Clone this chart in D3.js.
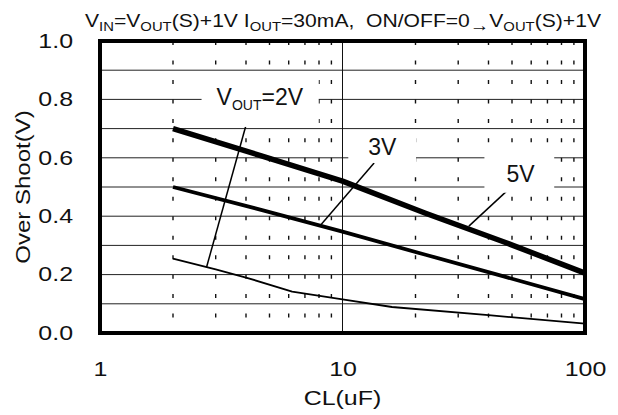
<!DOCTYPE html>
<html>
<head>
<meta charset="utf-8">
<script src="https://cdn.jsdelivr.net/npm/d3@7"></script>
<style>
  body { margin: 0; background: #fff; }
  svg { display: block; }
  text { font-family: "Liberation Sans", Arial, sans-serif; fill: #111; white-space: pre; }
</style>
</head>
<body>
<div id="chart"></div>
<script>
const width = 618;
const height = 415;

// axis ticks
const clTicks = [1, 10, 100];
const yTicks = [0, 0.2, 0.4, 0.6, 0.8, 1.0];
const yGrid = [0.1, 0.2, 0.3, 0.4, 0.5, 0.6, 0.7, 0.8, 0.9];

// Vout = 5V (thick)
const cl5V = [2, 4.7, 10, 22, 47, 100];
const os5V = [0.70, 0.605, 0.52, 0.41, 0.31, 0.205];

// Vout = 3V
const cl3V = [2, 4.7, 10, 22, 47, 100];
const os3V = [0.50, 0.42, 0.347, 0.268, 0.192, 0.116];

// Vout = 2V (thin)
const cl2V = [2, 3, 4, 6.2, 10, 16, 40, 100];
const os2V = [0.255, 0.218, 0.19, 0.142, 0.115, 0.089, 0.061, 0.032];

// curve labels: text anchor (CL, V) and pointer line from / to
const labelNames = ['2V', '3V', '5V'];
const labelAt = [[4.56, 0.781], [14.6, 0.610], [54.2, 0.518]];
const pointerFrom = [[4.08, 0.737], [13.5, 0.582], [47.3, 0.484]];
const pointerTo = [[2.75, 0.225], [8.13, 0.370], [33.2, 0.366]];

const plotLeft = 100, plotRight = 585, plotTop = 41, plotBottom = 333;

const x = d3.scaleLog().domain([1, 100]).range([plotLeft, plotRight]);
const y = d3.scaleLinear().domain([0, 1]).range([plotBottom, plotTop]);

// the original lettering is wider than Arial, stretch it horizontally
function stretch(sel, sx) {
  sel.each(function () {
    const t = d3.select(this);
    const x0 = +t.attr('x') || 0;
    const old = t.attr('transform') || '';
    t.attr('transform', old + ' translate(' + x0 + ',0) scale(' + sx + ',1) translate(' + (-x0) + ',0)');
  });
}

const svg = d3.select('#chart')
  .append('svg')
  .attr('width', width)
  .attr('height', height);

// horizontal grid
svg.append('g')
  .selectAll('line')
  .data(yGrid)
  .join('line')
  .attr('x1', plotLeft)
  .attr('x2', plotRight)
  .attr('y1', d => y(d))
  .attr('y2', d => y(d))
  .attr('stroke', '#222')
  .attr('stroke-width', 1);

// dashed minor verticals
const minor = x.ticks().filter(d => clTicks.indexOf(d) < 0);
svg.append('g')
  .selectAll('line')
  .data(minor)
  .join('line')
  .attr('x1', d => x(d))
  .attr('x2', d => x(d))
  .attr('y1', plotTop)
  .attr('y2', plotBottom)
  .attr('stroke', '#111')
  .attr('stroke-width', 1.4)
  .attr('stroke-dasharray', '4,15.47');

// solid vertical at 10
svg.append('line')
  .attr('x1', x(10)).attr('x2', x(10))
  .attr('y1', plotTop).attr('y2', plotBottom)
  .attr('stroke', '#111')
  .attr('stroke-width', 1);

// white boxes behind the curve labels (hide grid)
const boxPad = [[15, 11, 15, 14], [20, 1, 19, 3], [22, 16, 19, 6]]; // left, top, right, bottom
const labelG = svg.append('g');
const labels = labelNames.map(function (name, i) {
  const t = labelG.append('text')
    .attr('x', x(labelAt[i][0]))
    .attr('y', y(labelAt[i][1]))
    .attr('text-anchor', 'middle')
    .style('font-size', '23px');
  if (name === '2V') {
    t.append('tspan').text('V');
    t.append('tspan').attr('dy', 5).style('font-size', '14px').text('OUT');
    t.append('tspan').attr('dy', -5).text('=2V');
  } else {
    t.text(name);
  }
  return t;
});
labels.forEach(function (t, i) {
  const b = t.node().getBBox();
  const p = boxPad[i];
  labelG.insert('rect', 'text')
    .attr('x', b.x - p[0])
    .attr('y', b.y - p[1])
    .attr('width', b.width + p[0] + p[2])
    .attr('height', b.height + p[1] + p[3])
    .attr('fill', '#fff');
});

// curves
const line = d3.line()
  .x(d => x(d[0]))
  .y(d => y(d[1]));

const series = [
  { cl: cl2V, os: os2V, w: 1.8 },
  { cl: cl3V, os: os3V, w: 3.8 },
  { cl: cl5V, os: os5V, w: 5.5 }
];
series.forEach(function (s) {
  svg.append('path')
    .attr('d', line(s.cl.map((c, i) => [c, s.os[i]])))
    .attr('fill', 'none')
    .attr('stroke', '#000')
    .attr('stroke-width', s.w)
    .attr('stroke-linejoin', 'round');
});

// pointer lines
labelNames.forEach(function (name, i) {
  svg.append('path')
    .attr('d', line([pointerFrom[i], pointerTo[i]]))
    .attr('stroke', '#000')
    .attr('stroke-width', 1.5);
});

labelG.raise();

// frame
svg.append('rect')
  .attr('x', plotLeft)
  .attr('y', plotTop)
  .attr('width', plotRight - plotLeft)
  .attr('height', plotBottom - plotTop)
  .attr('fill', 'none')
  .attr('stroke', '#000')
  .attr('stroke-width', 4);

// axes
const yAxis = svg.append('g')
  .attr('transform', 'translate(' + plotLeft + ',0)')
  .call(d3.axisLeft(y).tickValues(yTicks).tickFormat(d3.format('.1f')).tickSize(0).tickPadding(27));
yAxis.select('.domain').remove();
yAxis.selectAll('text')
  .style('font-size', '19.5px')
  .style('font-family', '"Liberation Sans", Arial, sans-serif')
  .attr('fill', '#111')
  .call(stretch, 1.28);

const xAxis = svg.append('g')
  .attr('transform', 'translate(0,' + plotBottom + ')')
  .call(d3.axisBottom(x).tickValues(clTicks).tickFormat(d3.format('d')).tickSize(0).tickPadding(29));
xAxis.select('.domain').remove();
xAxis.selectAll('text')
  .style('font-size', '19.5px')
  .style('font-family', '"Liberation Sans", Arial, sans-serif')
  .attr('fill', '#111')
  .call(stretch, 1.28);

// axis titles
svg.append('text')
  .attr('x', (plotLeft + plotRight) / 2)
  .attr('y', 405)
  .attr('text-anchor', 'middle')
  .style('font-size', '19.5px')
  .text('CL(uF)')
  .call(stretch, 1.28);

svg.append('text')
  .attr('transform', 'translate(30,' + (plotTop + plotBottom) / 2 + ') rotate(-90)')
  .attr('text-anchor', 'middle')
  .style('font-size', '20px')
  .text('Over Shoot(V)')
  .call(stretch, 1.2);

// top condition text
const title = svg.append('text')
  .attr('x', 343)
  .attr('y', 27)
  .attr('text-anchor', 'middle')
  .style('font-size', '18.5px');
const parts = [
  ['V', 0], ['IN', 1], ['=V', 0], ['OUT', 1], ['(S)+1V I', 0], ['OUT', 1],
  ['=30mA,  ON/OFF=0', 0], ['\u2192', 1], ['V', 0], ['OUT', 1], ['(S)+1V', 0]
];
let prev = 0;
parts.forEach(function (p) {
  title.append('tspan')
    .attr('dy', (p[1] - prev) * 4)
    .style('font-size', p[1] ? (p[0] === '\u2192' ? '17px' : '13px') : '18.5px')
    .text(p[0]);
  prev = p[1];
});
title.call(stretch, 517 / title.node().getBBox().width);
</script>
</body>
</html>
